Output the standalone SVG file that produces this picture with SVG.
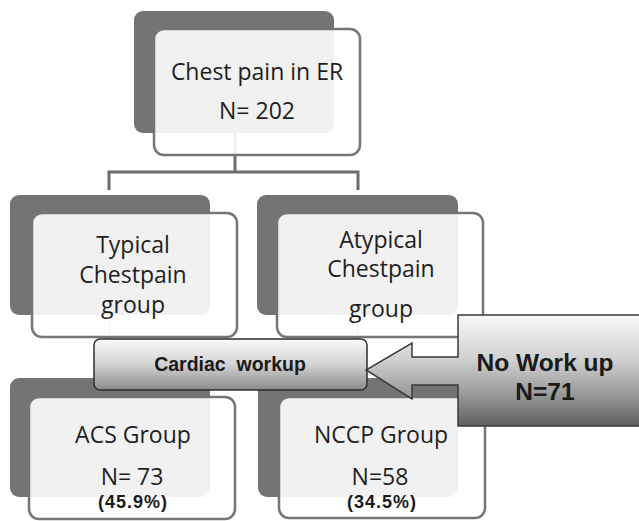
<svg xmlns="http://www.w3.org/2000/svg" width="639" height="521" viewBox="0 0 639 521">
<defs>
<linearGradient id="gCard" x1="0" y1="0" x2="0" y2="1">
<stop offset="0" stop-color="#fafafa"/>
<stop offset="0.5" stop-color="#d2d2d2"/>
<stop offset="1" stop-color="#8a8a8a"/>
</linearGradient>
<linearGradient id="gCall" gradientUnits="userSpaceOnUse" x1="0" y1="315" x2="0" y2="426">
<stop offset="0" stop-color="#f8f8f8"/>
<stop offset="0.4" stop-color="#d0d0d0"/>
<stop offset="0.7" stop-color="#9c9c9c"/>
<stop offset="1" stop-color="#5e5e5e"/>
</linearGradient>
</defs>
<style>
.shadow{fill:#747474}
.box{fill:#ffffff;fill-opacity:0.9;stroke:#767676;stroke-width:2.5}
.conn{fill:none;stroke:#6c6c6c;stroke-width:3}
.t{font-family:"Open Sans","Noto Sans",sans-serif;font-size:23px;fill:#1e1e1e;text-anchor:middle}
.b{font-family:"Liberation Sans",Arial,sans-serif;font-weight:bold;fill:#1a1a1a;text-anchor:middle}
</style>
<rect width="639" height="521" fill="#ffffff"/>
<g id="connectors">
<path class="conn" d="M235 133 V172 M109 172 H358 M109 170.5 V190 M358 170.5 V190"/>
<path class="conn" d="M110 315 V339 M358 315 V339" opacity="0.5"/>
</g>
<g id="n_chest">
<rect class="shadow" x="134" y="11" width="200" height="122" rx="9"/>
<rect class="box" x="154" y="29" width="206" height="126" rx="10"/>
<text class="t" x="257" y="80">Chest pain in ER</text>
<text class="t" x="257" y="119">N= 202</text>
</g>
<g id="n_typical">
<rect class="shadow" x="10" y="195" width="200" height="120" rx="9"/>
<rect class="box" x="32" y="213" width="205" height="124" rx="10"/>
<text class="t" x="133" y="253">Typical</text>
<text class="t" x="133" y="283">Chestpain</text>
<text class="t" x="133" y="313">group</text>
</g>
<g id="n_atypical">
<rect class="shadow" x="257" y="195" width="201" height="120" rx="9"/>
<rect class="box" x="277" y="213" width="206" height="124" rx="10"/>
<text class="t" x="381" y="248">Atypical</text>
<text class="t" x="381" y="277">Chestpain</text>
<text class="t" x="381" y="317">group</text>
</g>
<g id="n_acs">
<rect class="shadow" x="10" y="378" width="200" height="119" rx="9"/>
<rect class="box" x="29" y="397" width="206" height="122" rx="10"/>
<text class="t" x="133" y="443">ACS Group</text>
<text class="t" x="132" y="485">N= 73</text>
<text class="b" x="133" y="508" style="font-size:18px;letter-spacing:1px">(45.9%)</text>
</g>
<g id="n_nccp">
<rect class="shadow" x="258" y="378" width="200" height="119" rx="9"/>
<rect class="box" x="279" y="397" width="206" height="121" rx="10"/>
<text class="t" x="381" y="443">NCCP Group</text>
<text class="t" x="380" y="485">N=58</text>
<text class="b" x="382" y="508" style="font-size:18px;letter-spacing:1px">(34.5%)</text>
</g>
<g id="n_cardiac">
<rect x="94" y="339" width="273" height="51" rx="6" fill="url(#gCard)" stroke="#2e2e2e" stroke-width="1.5"/>
<text class="b" x="230" y="371" style="font-size:19.5px;white-space:pre">Cardiac  workup</text>
</g>
<g id="n_noworkup">
<path d="M645 315 H458 V357 H412 V343 L366 370 L412 399 V385 H458 V426 H645 Z" fill="url(#gCall)" stroke="#3a3a3a" stroke-width="1.5"/>
<text class="b" x="545" y="371" style="font-size:24.5px">No Work up</text>
<text class="b" x="545" y="400" style="font-size:24.5px">N=71</text>
</g>
</svg>
